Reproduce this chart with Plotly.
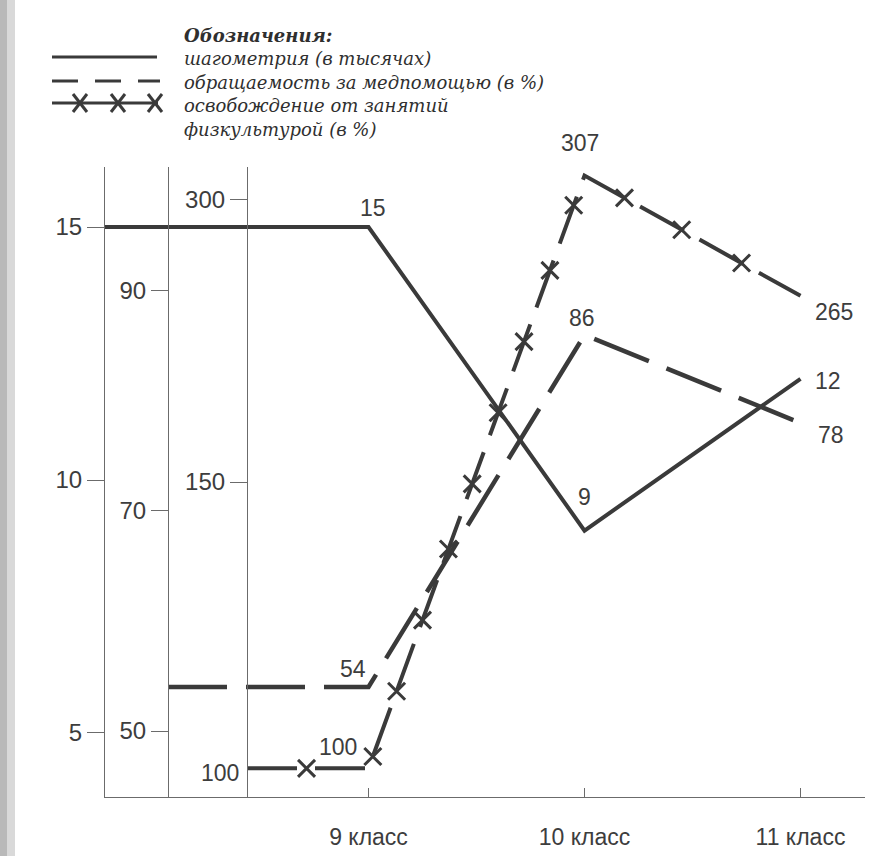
import plotly.graph_objects as go

# ---- data -------------------------------------------------------------
# first value of every series sits on its own value axis, then 9, 10, 11 класс
classes = [9, 10, 11]
class_labels = ["9 класс", "10 класс", "11 класс"]

steps_thousands = [15, 15, 9, 12]        # шагометрия (в тысячах)
medical_visits_pct = [54, 54, 86, 78]    # обращаемость за медпомощью (в %)
pe_exemption_pct = [100, 100, 307, 265]  # освобождение от занятий физкультурой (в %)

steps_ticks = [5, 10, 15]
visits_ticks = [50, 70, 90]
exemption_ticks = [150, 300]

legend_title = "Обозначения:"
legend_texts = [
    "шагометрия (в тысячах)",
    "обращаемость за медпомощью (в %)",
    "освобождение от занятий",
    "физкультурой (в %)",
]

# ---- geometry / style ---------------------------------------------------
W, H = 877, 856
ML, MR, MT, MB = 105, 12, 167, 59
PW, PH = W - ML - MR, H - MT - MB

X_RANGE = [7.78, 11.2986]
AX_POS = [0.0, 63 / PW, 142 / PW]          # three value axes, paper fraction
Y1_RANGE = [3.735, 16.186]
Y2_RANGE = [44.0, 101.27]
Y3_RANGE = [-17.55, 317.55]
Y4_RANGE = [90.0, 310.0]                   # scale of the crossed line

INK = "#3a3a3a"
AXIS_INK = "#6b6b6b"
TEXT_INK = "#3d3d3d"
SANS = "Liberation Sans, Arial, sans-serif"
SERIF = "DejaVu Serif, Liberation Serif, serif"

# crosses are spread along each segment of the crossed line (line pattern)
CROSS_FRACTIONS = [
    [0.49],
    [0.02, 0.13, 0.25, 0.37, 0.48, 0.60, 0.72, 0.84, 0.95],
    [0.185, 0.45, 0.727],
]


def axis_x(pos):
    return X_RANGE[0] + pos * (X_RANGE[1] - X_RANGE[0])


def px(xp):
    return (xp - ML) / PW


def py(yp):
    return (H - MB - yp) / PH


start_x = [axis_x(p) for p in AX_POS]
x_steps = [start_x[0]] + classes
x_visits = [start_x[1]] + classes
x_exempt = [start_x[2]] + classes


def crosses(xs, ys, fractions):
    mx, my = [], []
    for i, fr in enumerate(fractions):
        x0, x1, y0, y1 = xs[i], xs[i + 1], ys[i], ys[i + 1]
        for f in fr:
            mx.append(x0 + (x1 - x0) * f)
            my.append(y0 + (y1 - y0) * f)
    return mx, my


fig = go.Figure()

fig.add_trace(go.Scatter(
    x=x_steps, y=steps_thousands, mode="lines", yaxis="y",
    line=dict(color=INK, width=4), hoverinfo="skip", showlegend=False))

fig.add_trace(go.Scatter(
    x=x_visits, y=medical_visits_pct, mode="lines", yaxis="y2",
    line=dict(color=INK, width=4.5, dash="59px,19px"),
    hoverinfo="skip", showlegend=False))

# empty trace so the third value axis gets drawn
fig.add_trace(go.Scatter(x=[], y=[], yaxis="y3", mode="lines",
                         hoverinfo="skip", showlegend=False))

fig.add_trace(go.Scatter(
    x=x_exempt, y=pe_exemption_pct, mode="lines", yaxis="y4",
    line=dict(color=INK, width=4, dash="50px,18px"),
    hoverinfo="skip", showlegend=False))

cx, cy = crosses(x_exempt, pe_exemption_pct, CROSS_FRACTIONS)
fig.add_trace(go.Scatter(
    x=cx, y=cy, mode="markers", yaxis="y4",
    marker=dict(symbol="x-thin", size=17, line=dict(color=INK, width=3)),
    hoverinfo="skip", showlegend=False))

# ---- value labels -------------------------------------------------------
label_font = dict(family=SANS, size=23, color=TEXT_INK)
annotations = []


def value_label(x, y, yref, text, dx, dy, xanchor="center"):
    annotations.append(dict(
        x=x, y=y, xref="x", yref=yref, text=text, showarrow=False,
        xshift=dx, yshift=dy, xanchor=xanchor, yanchor="middle", font=label_font))


value_label(classes[0], steps_thousands[1], "y", str(steps_thousands[1]), 4, 19)
value_label(classes[1], steps_thousands[2], "y", str(steps_thousands[2]), 0, 34)
value_label(classes[2], steps_thousands[3], "y", str(steps_thousands[3]), 27, -2)

value_label(classes[0], medical_visits_pct[1], "y2", str(medical_visits_pct[1]), -16, 18)
value_label(classes[1], medical_visits_pct[2], "y2", str(medical_visits_pct[2]), -3, 17)
value_label(classes[2], medical_visits_pct[3], "y2", str(medical_visits_pct[3]), 30, -12)

value_label(x_exempt[0], pe_exemption_pct[0], "y4", str(pe_exemption_pct[0]), -6, -5, "right")
value_label(classes[0], pe_exemption_pct[1], "y4", str(pe_exemption_pct[1]), -31, 21)
value_label(classes[1], pe_exemption_pct[2], "y4", str(pe_exemption_pct[2]), -5, 33)
value_label(classes[2], pe_exemption_pct[3], "y4", str(pe_exemption_pct[3]), 33, -16)

# ---- hand-made key ------------------------------------------------------
key_text = "<b>" + legend_title + "</b><br>" + "<br>".join(legend_texts)
annotations.append(dict(
    x=px(182), y=py(23), xref="paper", yref="paper", text=key_text,
    showarrow=False, xanchor="left", yanchor="top", align="left",
    font=dict(family=SERIF, size=18, color="#2f2f2f", style="italic")))

shapes = []
shapes.append(dict(type="rect", xref="paper", yref="paper",
                   x0=px(0), x1=px(7), y0=py(H), y1=py(0),
                   fillcolor="#b9b9b9", line=dict(width=0), layer="below"))
shapes.append(dict(type="rect", xref="paper", yref="paper",
                   x0=px(7), x1=px(15), y0=py(H), y1=py(0),
                   fillcolor="#d9d9d9", line=dict(width=0), layer="below"))

shapes.append(dict(type="line", xref="paper", yref="paper",
                   x0=px(52), x1=px(157), y0=py(57), y1=py(57),
                   line=dict(color=INK, width=3)))
shapes.append(dict(type="line", xref="paper", yref="paper",
                   x0=px(52), x1=px(160), y0=py(81), y1=py(81),
                   line=dict(color=INK, width=3, dash="26px,17px")))
shapes.append(dict(type="line", xref="paper", yref="paper",
                   x0=px(52), x1=px(158), y0=py(103), y1=py(103),
                   line=dict(color=INK, width=3)))
for cxp in [80, 118, 155]:
    for sgn in (1, -1):
        shapes.append(dict(type="line", xref="paper", yref="paper",
                           x0=px(cxp - 7), x1=px(cxp + 7),
                           y0=py(103 - 9 * sgn), y1=py(103 + 9 * sgn),
                           line=dict(color=INK, width=3)))

value_axis = dict(
    showline=True, linecolor=AXIS_INK, linewidth=1.2,
    ticks="outside", ticklen=17, tickwidth=1.2, tickcolor=AXIS_INK,
    tickfont=dict(family=SANS, size=24, color=TEXT_INK),
    showgrid=False, zeroline=False, fixedrange=True, side="left",
    automargin=False,
)

fig.update_layout(
    width=W, height=H,
    margin=dict(l=ML, r=MR, t=MT, b=MB, autoexpand=False),
    paper_bgcolor="white", plot_bgcolor="white",
    xaxis=dict(
        range=X_RANGE, showline=True, linecolor=AXIS_INK, linewidth=1.2,
        ticks="inside", ticklen=9, tickwidth=1.2, tickcolor=AXIS_INK,
        tickvals=classes, ticktext=class_labels, ticklabelstandoff=19,
        tickfont=dict(family=SANS, size=23, color=TEXT_INK),
        showgrid=False, zeroline=False, fixedrange=True, automargin=False),
    yaxis=dict(range=Y1_RANGE, tickvals=steps_ticks, **value_axis),
    yaxis2=dict(range=Y2_RANGE, tickvals=visits_ticks, overlaying="y",
                anchor="free", position=AX_POS[1], **value_axis),
    yaxis3=dict(range=Y3_RANGE, tickvals=exemption_ticks, overlaying="y",
                anchor="free", position=AX_POS[2], **value_axis),
    yaxis4=dict(range=Y4_RANGE, overlaying="y", visible=False, fixedrange=True),
    annotations=annotations,
    shapes=shapes,
    showlegend=False,
)

fig.write_html("out.html")
